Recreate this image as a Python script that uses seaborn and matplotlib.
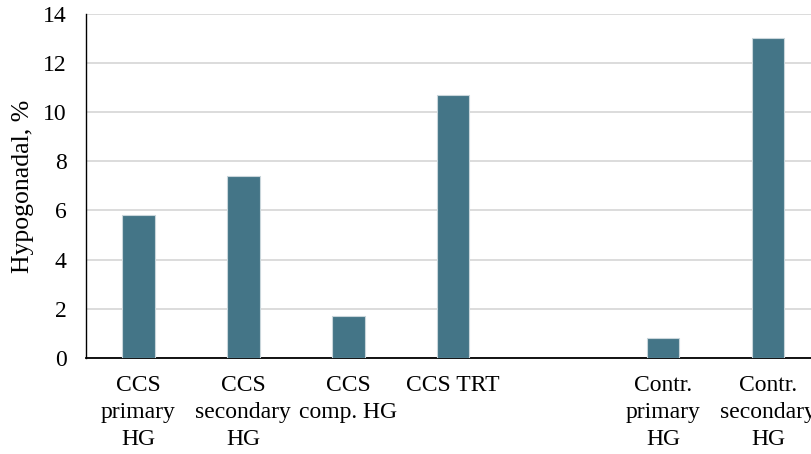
import numpy as np
import pandas as pd
import matplotlib
matplotlib.use("Agg")
import matplotlib.pyplot as plt
import seaborn as sns

CATEGORIES = ["CCS\nprimary\nHG", "CCS\nsecondary\nHG", "CCS\ncomp. HG", "CCS TRT",
              " ", "Contr.\nprimary\nHG", "Contr.\nsecondary\nHG"]
VALUES = [5.8, 7.4, 1.7, 10.7, np.nan, 0.8, 13.0]
Y_TICKS = [0, 2, 4, 6, 8, 10, 12, 14]

BAR_COLOR = "#447587"

sns.set_theme(style="white")
plt.rcParams["font.family"] = ["Liberation Serif", "DejaVu Serif"]

df = pd.DataFrame({"group": CATEGORIES, "pct": VALUES})

fig = plt.figure(figsize=(8.11, 4.54), dpi=100)
ax = fig.add_axes([0.106, 0.2115, 0.894, 0.758])

sns.barplot(data=df.dropna(), x="group", y="pct", order=CATEGORIES,
            color=BAR_COLOR, saturation=1, width=0.31,
            edgecolor="#c9d6db", linewidth=0.8, ax=ax, zorder=3)

ax.set_ylim(0, 14)
ax.set_yticks(Y_TICKS)
ax.set_xlim(-0.5, 6.41)
ax.yaxis.grid(True, color="#d9d9d9", linewidth=1.3, zorder=0)
ax.set_axisbelow(True)

for side in ("top", "right"):
    ax.spines[side].set_visible(False)
ax.spines["left"].set_color("black")
ax.spines["bottom"].set_color("black")
ax.spines["left"].set_linewidth(1.0)
ax.spines["bottom"].set_linewidth(1.3)

ax.tick_params(axis="both", length=0, labelsize=17, colors="black")
ax.tick_params(axis="x", pad=12)
ax.tick_params(axis="y", pad=14)
for lbl in ax.get_xticklabels():
    lbl.set_linespacing(1.4)
ax.set_xlabel("")
ax.set_ylabel("Hypogonadal, %", fontsize=18.5, color="black", labelpad=6)

fig.savefig("out.png", dpi=100)
